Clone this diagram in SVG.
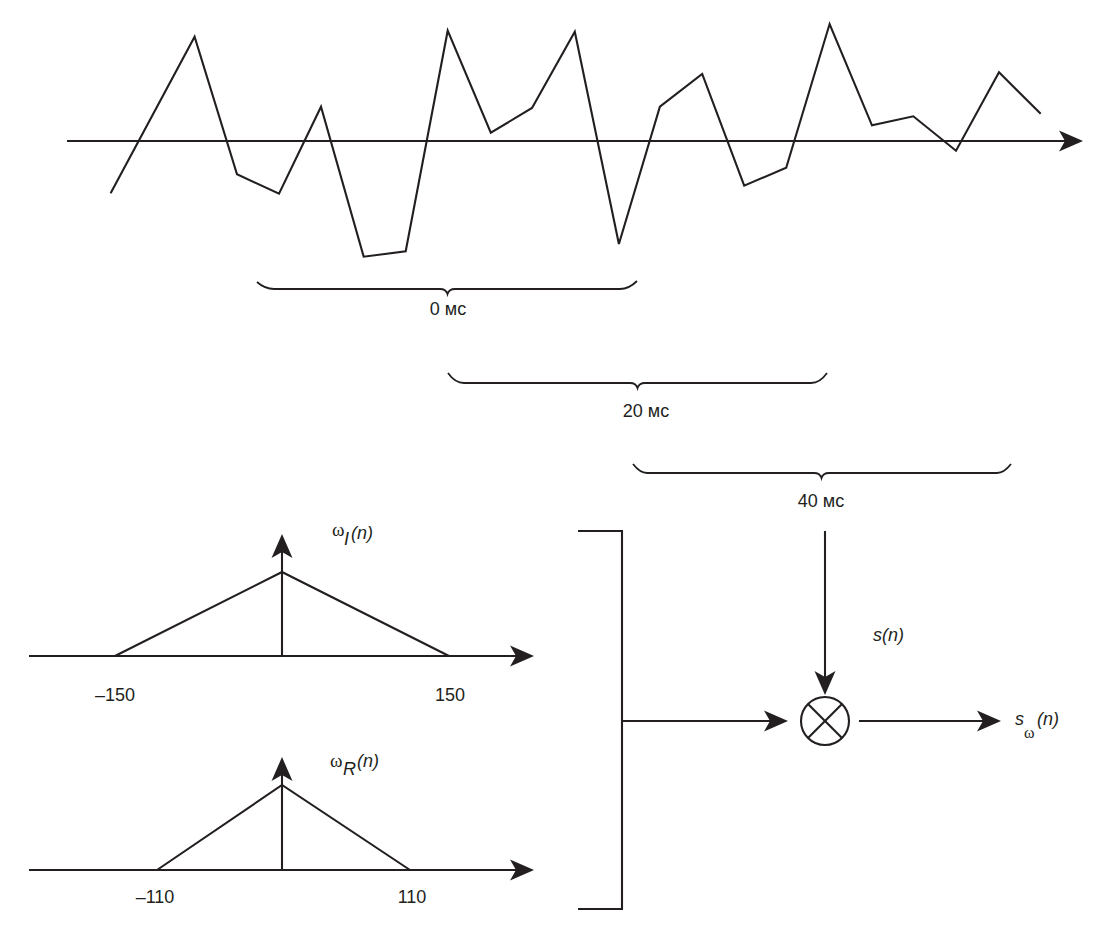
<svg xmlns="http://www.w3.org/2000/svg" width="1102" height="929" viewBox="0 0 1102 929">
<style>
.ln{fill:none;stroke:#231f20;stroke-width:2.1;stroke-linejoin:miter}
.br{fill:none;stroke:#231f20;stroke-width:1.8}
.t{font-family:"Liberation Sans",Arial,sans-serif;font-size:18px;fill:#231f20}
.ti{font-family:"Liberation Sans",Arial,sans-serif;font-size:18px;font-style:italic;fill:#231f20}
.w{font-family:"Liberation Serif","Times New Roman",serif;fill:#231f20}
</style>
<defs>
<marker id="ah" viewBox="-25 -12 26 24" refX="-10" refY="0" markerWidth="26" markerHeight="24" orient="auto" markerUnits="userSpaceOnUse">
<path d="M0,0 L-24,-10.5 L-18,0 L-24,10.5 Z" fill="#231f20"/>
</marker>
</defs>
<rect width="1102" height="929" fill="#fff"/>
<g id="signal">
<line class="ln" x1="67" y1="141" x2="1073" y2="141" marker-end="url(#ah)"/>
<polyline class="ln" points="110.6,193.3 194.6,36.7 237,174.3 279,193.7 321,106.7 363.7,256.7 405.7,251.3 447.7,30.7 490.8,132.7 532,108 574.8,31.7 618.9,244 659.9,106.7 702.2,74 744.2,185.7 786.2,167.7 829.6,24 872,125.3 913.3,116.3 956,150.7 999,72.3 1040.7,113.7"/>
</g>
<g id="brace-0ms">
<path class="br" d="M257,282 Q265,289 274,289 L440,289 Q446,289 447.5,294 Q449,289 455,289 L620,289 Q629,289 637,281"/>
<text class="t" x="448" y="315" text-anchor="middle">0 мс</text>
</g>
<g id="brace-20ms">
<path class="br" d="M448,373 Q455,383 464,383 L630,383 Q636,383 637.5,388 Q639,383 645,383 L811,383 Q820,383 827,373"/>
<text class="t" x="646" y="417" text-anchor="middle">20 мс</text>
</g>
<g id="brace-40ms">
<path class="br" d="M633,464 Q640,473 647,473 L814,473 Q820,473 821.5,478 Q823,473 829,473 L997,473 Q1004,473 1011,464"/>
<text class="t" x="821" y="507" text-anchor="middle">40 мс</text>
</g>
<g id="window-I">
<line class="ln" x1="29" y1="656" x2="524" y2="656" marker-end="url(#ah)"/>
<line class="ln" x1="282" y1="656" x2="282" y2="544" marker-end="url(#ah)"/>
<polyline class="ln" points="115,656 282,572 449,656"/>
<text class="w" x="332" y="536" font-size="19">ω</text>
<text class="ti" x="344" y="545" font-size="17">I</text>
<text class="ti" x="351" y="539">(n)</text>
<text class="t" x="115" y="701" text-anchor="middle">–150</text>
<text class="t" x="450" y="701" text-anchor="middle">150</text>
</g>
<g id="window-R">
<line class="ln" x1="29" y1="870" x2="524" y2="870" marker-end="url(#ah)"/>
<line class="ln" x1="282" y1="870" x2="282" y2="767" marker-end="url(#ah)"/>
<polyline class="ln" points="157,870 282,785 410,870"/>
<text class="w" x="330" y="767" font-size="19">ω</text>
<text class="ti" x="343" y="775">R</text>
<text class="ti" x="357" y="767">(n)</text>
<text class="t" x="155" y="903" text-anchor="middle">–110</text>
<text class="t" x="412" y="903" text-anchor="middle">110</text>
</g>
<g id="bracket">
<path class="ln" d="M578,531 H622 V909 H578"/>
</g>
<g id="multiplier">
<circle class="ln" cx="825" cy="721" r="24"/>
<line class="ln" x1="808" y1="704" x2="842" y2="738"/>
<line class="ln" x1="842" y1="704" x2="808" y2="738"/>
</g>
<g id="connectors">
<line class="ln" x1="825" y1="531" x2="825" y2="685" marker-end="url(#ah)"/>
<line class="ln" x1="622" y1="721" x2="778" y2="721" marker-end="url(#ah)"/>
<line class="ln" x1="859" y1="721" x2="991" y2="721" marker-end="url(#ah)"/>
</g>
<g id="labels">
<text class="ti" x="873" y="641">s(n)</text>
<text class="ti" x="1015" y="725">s</text>
<text class="w" x="1024" y="738" font-size="16">ω</text>
<text class="ti" x="1037" y="725">(n)</text>
</g>
</svg>
